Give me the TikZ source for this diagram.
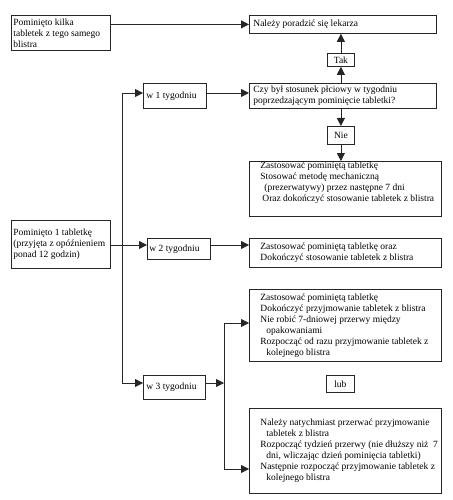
\documentclass[tikz,border=0pt]{standalone}
\usepackage{fontspec}
\setmainfont{Liberation Serif}
\usetikzlibrary{arrows.meta}
\newcommand{\bxt}[4]{\parbox[c][#1][#2]{#3}{\fontsize{9.5}{11}\selectfont\rightskip=0pt plus 1fil\relax #4}}
\begin{document}
\begin{tikzpicture}[x=1pt,y=-1pt,
  box/.style={draw=black!85, line width=0.8pt, inner sep=0pt, anchor=north west},
  arr/.style={line width=0.8pt, draw=black!85, -{Triangle[length=8pt,width=8pt]}},
  ln/.style={line width=0.8pt, draw=black!85}]
\useasboundingbox (0,0) rectangle (452,500);
\node[box] (A) at (11,15) {\bxt{35pt}{c}{99pt}{\leftskip=2pt Pominięto kilka\\tabletek z tego samego\\blistra}};
\node[box] (L) at (249,15) {\bxt{18pt}{c}{187pt}{\leftskip=4pt Należy poradzić się lekarza}};
\node[box] (Tak) at (327,53) {\bxt{13pt}{c}{27pt}{\centering Tak}};
\node[box] (Q) at (249,83) {\bxt{25pt}{c}{187pt}{\leftskip=4pt Czy był stosunek płciowy w tygodniu\\poprzedzającym pominięcie tabletki?}};
\node[box] (w1) at (143,83) {\bxt{25pt}{c}{63pt}{\leftskip=3pt w 1 tygodniu}};
\node[box] (Nie) at (327,126) {\bxt{18pt}{c}{27pt}{\centering Nie}};
\node[box] (C) at (249,161) {\bxt{55pt}{t}{192pt}{\vspace*{0pt}\leftskip=11pt Zastosować pominiętą tabletkę\\Stosować metodę mechaniczną\\\hspace*{4pt}(prezerwatywy) przez następne 7 dni\\\hspace*{2pt}Oraz dokończyć stosowanie tabletek z blistra}};
\node[box] (P1) at (11,220) {\bxt{48pt}{c}{99pt}{\leftskip=2pt Pominięto 1 tabletkę\\(przyjęta z opóźnieniem\\ponad 12 godzin)}};
\node[box] (w2) at (147,238) {\bxt{21pt}{c}{63pt}{\leftskip=2pt w 2 tygodniu}};
\node[box] (D) at (249,238) {\bxt{29pt}{c}{192pt}{\leftskip=11pt Zastosować pominiętą tabletkę oraz\\Dokończyć stosowanie tabletek z blistra}};
\node[box] (E) at (249,289) {\bxt{72pt}{c}{192pt}{\leftskip=11pt Zastosować pominiętą tabletkę\\Dokończyć przyjmowanie tabletek z blistra\\Nie robić 7-dniowej przerwy między\\\hspace*{6pt}opakowaniami\\Rozpocząć od razu przyjmowanie tabletek z\\\hspace*{6pt}kolejnego blistra}};
\node[box] (lub) at (326,375) {\bxt{17pt}{c}{28pt}{\centering lub}};
\node[box] (w3) at (143,375) {\bxt{24pt}{c}{62pt}{\leftskip=3pt w 3 tygodniu}};
\node[box] (F) at (249,408) {\bxt{85pt}{c}{192pt}{\leftskip=11pt Należy natychmiast przerwać przyjmowanie\\\hspace*{6pt}tabletek z blistra\\Rozpocząć tydzień przerwy (nie dłuższy niż\ \ 7\\\hspace*{6pt}dni, wliczając dzień pominięcia tabletki)\\Następnie rozpocząć przyjmowanie tabletek z\\\hspace*{6pt}kolejnego blistra}};
% connectors
\draw[arr] (A.east |- L.west) -- (L.west);
\draw[arr] (Tak.south |- Q.north) -- (Tak.south);
\draw[arr] (Tak.north) -- (Tak.north |- L.south);
\draw[arr] (Nie.north |- Q.south) -- (Nie.north);
\draw[arr] (Nie.south) -- (Nie.south |- C.north);
\coordinate (t1) at (122,93);
\coordinate (t3) at (122,383);
\draw[ln] (t1) -- (t3);
\draw[arr] (t1) -- (t1 -| w1.west);
\draw[arr] (t1 -| w1.east) -- (t1 -| Q.west);
\draw[arr] (t3) -- (t3 -| w3.west);
\coordinate (j) at (224,383);
\draw[arr] (t3 -| w3.east) -- (j);
\coordinate (jt) at (224,323);
\coordinate (jb) at (224,469);
\draw[ln] (jt) -- (jb);
\draw[arr] (jt) -- (jt -| E.west);
\draw[arr] (jb) -- (jb -| F.west);
\coordinate (p) at (110,245);
\draw[arr] (p) -- (p -| w2.west);
\draw[arr] (p -| w2.east) -- (p -| D.west);
\end{tikzpicture}
\end{document}
